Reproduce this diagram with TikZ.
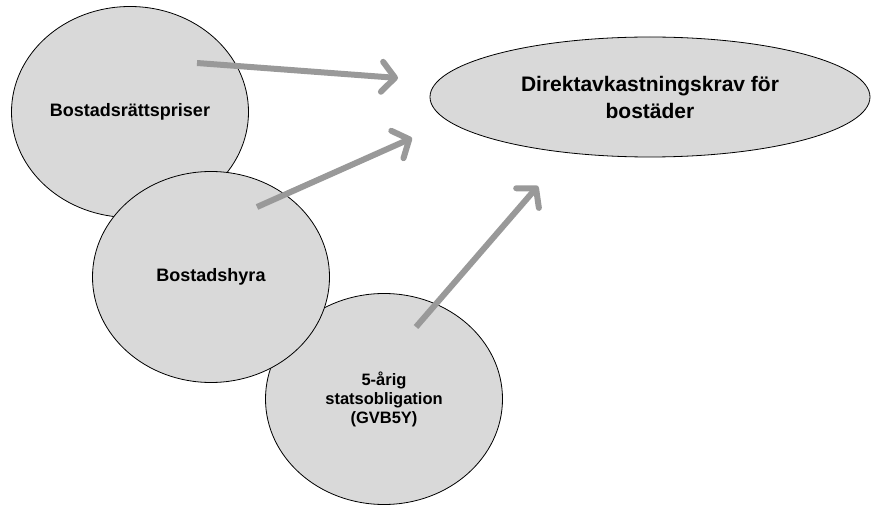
\documentclass[tikz,border=0pt]{standalone}
\usepackage{fontspec}
\setmainfont{Liberation Sans}
\usepackage{tikz}
\usetikzlibrary{shapes.geometric, arrows.meta}

\begin{document}
\begin{tikzpicture}[x=1pt, y=-1pt]
    % Färger för bubblor och pilar
    \definecolor{bubblefill}{RGB}{217, 217, 217}
    \definecolor{pilgra}{RGB}{153, 153, 153}

    \tikzset{
        bubbla/.style={ellipse, draw=black, line width=0.8pt, fill=bubblefill,
            inner sep=0pt, align=center, minimum width=237pt, minimum height=211pt,
            font=\bfseries\fontsize{18}{22}\selectfont},
        pil/.style={draw=pilgra, line width=6pt,
            -{Straight Barb[length=13pt, width=30pt, round]}}
    }

    \useasboundingbox (0,0) rectangle (871,505);

    % 1. Bubblorna (ordningen styr vad som ligger överst)
    \node[bubbla] (pris) at (130,112) {Bostadsrättspriser};
    \node[bubbla, font=\bfseries\fontsize{16.5}{19}\selectfont] (oblig) at (384,399)
        {5-årig\\statsobligation\\(GVB5Y)};
    \node[bubbla] (hyra) at (211,277) {Bostadshyra};
    \node[bubbla, minimum width=440pt, minimum height=120pt,
        font=\bfseries\fontsize{21}{27}\selectfont] (krav) at (650,97)
        {Direktavkastningskrav för\\bostäder};

    % 2. Pilarnas start- och slutpunkter
    \coordinate (pris-ut) at (197,63);
    \coordinate (pris-in) at (398,78);
    \coordinate (hyra-ut) at (257,207);
    \coordinate (hyra-in) at (412,138);
    \coordinate (oblig-ut) at (416,327);
    \coordinate (oblig-in) at (538,186);

    % 3. Pilar mot direktavkastningskravet
    \draw[pil] (pris-ut) -- (pris-in);
    \draw[pil] (hyra-ut) -- (hyra-in);
    \draw[pil] (oblig-ut) -- (oblig-in);
\end{tikzpicture}
\end{document}
